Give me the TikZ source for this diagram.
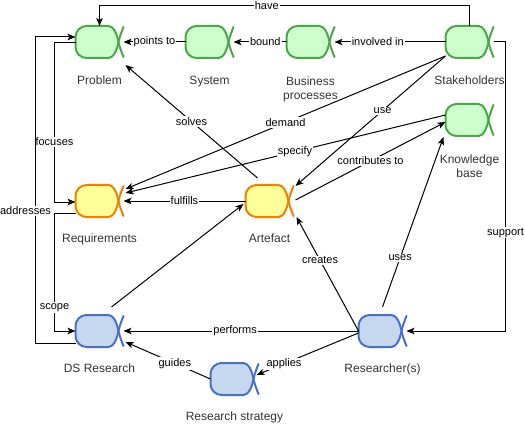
\documentclass[tikz,border=0pt]{standalone}
\usepackage{fontspec}
\setmainfont{Liberation Sans}
\usetikzlibrary{arrows.meta,calc}
\definecolor{gfill}{HTML}{CCFFCC}
\definecolor{gline}{HTML}{4CA64C}
\definecolor{yfill}{HTML}{FFFF99}
\definecolor{yline}{HTML}{F08000}
\definecolor{bfill}{HTML}{C6D7F0}
\definecolor{bline}{HTML}{4A6FC8}
\definecolor{labelgray}{HTML}{333333}
\newcommand\drawobj[3]{%
  \begin{scope}[shift={(#1.north west)}]
    \filldraw[fill=#2,draw=#3,line width=2pt,line join=round]
      (33,0) -- (11,0) .. controls (5,0) and (0,5) .. (0,11) -- (0,21)
      .. controls (0,27) and (5,32) .. (11,32) -- (33,32)
      .. controls (38,32) and (41.5,24) .. (43,16)
      .. controls (41.5,8) and (38,0) .. (33,0) -- cycle;
    \draw[draw=#3,line width=2pt,line cap=round,line join=round]
      (48,1) .. controls (46,6) and (44,11) .. (43,16) .. controls (44,21) and (46,26) .. (48,31);
  \end{scope}}
\begin{document}
\begin{tikzpicture}[x=1pt,y=-1pt,
  obj/.style={minimum width=48pt,minimum height=32pt,inner sep=0pt,outer sep=0pt},
  objlabel/.style={font=\fontsize{12}{14}\selectfont,text=labelgray,align=center,inner sep=0pt},
  conn/.style={line width=1pt,-{Stealth[length=8pt,width=6.5pt,inset=2pt]}},
  elabel/.style={font=\fontsize{11}{13}\selectfont,fill=white,inner sep=1pt,text=black}]
\useasboundingbox (0,0) rectangle (525,425);

% object nodes
\node[obj] (problem) at (99.5,42) {};
\node[obj] (system) at (209.5,42) {};
\node[obj] (bp) at (310.5,42) {};
\node[obj] (stake) at (469.5,42) {};
\node[obj] (kb) at (469.5,120) {};
\node[obj] (req) at (99.5,201) {};
\node[obj] (art) at (269.5,201) {};
\node[obj] (ds) at (99.5,331) {};
\node[obj] (res) at (382.5,331) {};
\node[obj] (rs) at (234.5,379) {};

\drawobj{problem}{gfill}{gline}
\drawobj{system}{gfill}{gline}
\drawobj{bp}{gfill}{gline}
\drawobj{stake}{gfill}{gline}
\drawobj{kb}{gfill}{gline}
\drawobj{req}{yfill}{yline}
\drawobj{art}{yfill}{yline}
\drawobj{ds}{bfill}{bline}
\drawobj{res}{bfill}{bline}
\drawobj{rs}{bfill}{bline}

% object labels
\node[objlabel,anchor=base] (problemL) at (99.5,85) {Problem};
\node[objlabel,anchor=base] (systemL) at (209.5,85) {System};
\node[objlabel] (bpL) at (310.5,89) {Business\\processes};
\node[objlabel,anchor=base] (stakeL) at (469.5,85) {Stakeholders};
\node[objlabel] (kbL) at (469.5,166) {Knowledge\\base};
\node[objlabel,anchor=base] (reqL) at (99.5,242) {Requirements};
\node[objlabel,anchor=base] (artL) at (269.5,242) {Artefact};
\node[objlabel,anchor=base] (dsL) at (99.5,372) {DS Research};
\node[objlabel,anchor=base] (resL) at (382.5,372) {Researcher(s)};
\node[objlabel,anchor=base] (rsL) at (234.5,420) {Research strategy};

% connectors
\draw[conn] (stake.north) -- ++(0,-20) -| node[elabel,pos=0.274] (lhave) {have} (problem.north);
\draw[conn] (system.west) -- node[elabel] (lpoints) {points to} (problem.east);
\draw[conn] (bp.west) -- node[elabel,pos=0.4] (lbound) {bound} (system.east);
\draw[conn] (stake.west) -- node[elabel,pos=0.61] (linv) {involved in} (bp.east);
\draw[conn] (stake.east) -- ++(12,0) |- node[elabel,pos=0.33] (lsup) {support} (res.east);
\draw[conn] ([shift={(0,-2)}]stake.south west) -- node[elabel,pos=0.42] (luse) {use} ([shift={(2,1)}]art.north east);
\draw[conn] ([shift={(0,-2)}]stake.south west) -- node[elabel,pos=0.5] (ldemand) {demand} ([shift={(2,-12)}]req.east);
\draw[conn] ([shift={(0,-5)}]kb.west) -- node[elabel,pos=0.47] (lspec) {specify} ([shift={(2,-8)}]req.east);
\draw[conn] ([shift={(2,-1)}]art.east) -- node[elabel] (lcontrib) {contributes to} ([shift={(0,2)}]kb.west);
\draw[conn] (art.west) -- node[elabel] (lful) {fulfills} (req.east);
\draw[conn] ([shift={(-12,-7)}]art.north) -- node[elabel] (lsolves) {solves} ([shift={(2,7)}]problem.south east);
\draw[conn] ([shift={(12,-8)}]ds.north) -- ([shift={(-2,3)}]art.west);
\draw[conn] (res.west) -- node[elabel,pos=0.62] (lcreates) {creates} ([shift={(3,0)}]art.south east);
\draw[conn] ([shift={(0,-8)}]res.north) -- node[elabel,pos=0.29] (luses) {uses} ([shift={(-2,1)}]kb.south west);
\draw[conn] (res.west) -- node[elabel,pos=0.525] (lperf) {performs} (ds.east);
\draw[conn] ([shift={(0,2)}]res.west) -- node[elabel,pos=0.73] (lapp) {applies} ([shift={(-2,-4)}]rs.east);
\draw[conn] (rs.west) -- node[elabel,pos=0.42] (lguides) {guides} ([shift={(2,11)}]ds.east);
\draw[conn] ([shift={(0,1)}]problem.west) -- ++(-21,0) |- node[elabel,pos=0.31] (lfoc) {focuses} ([shift={(0,1)}]req.west);
\draw[conn] ([shift={(0,12)}]req.west) -- ++(-21,0) |- node[elabel,pos=0.40] (lscope) {scope} (ds.west);
\draw[conn] ([shift={(0,12)}]ds.west) -- ++(-40,0) |- node[elabel,pos=0.216,xshift=-10pt] (laddr) {addresses} ([shift={(0,-5)}]problem.west);
\end{tikzpicture}
\end{document}
